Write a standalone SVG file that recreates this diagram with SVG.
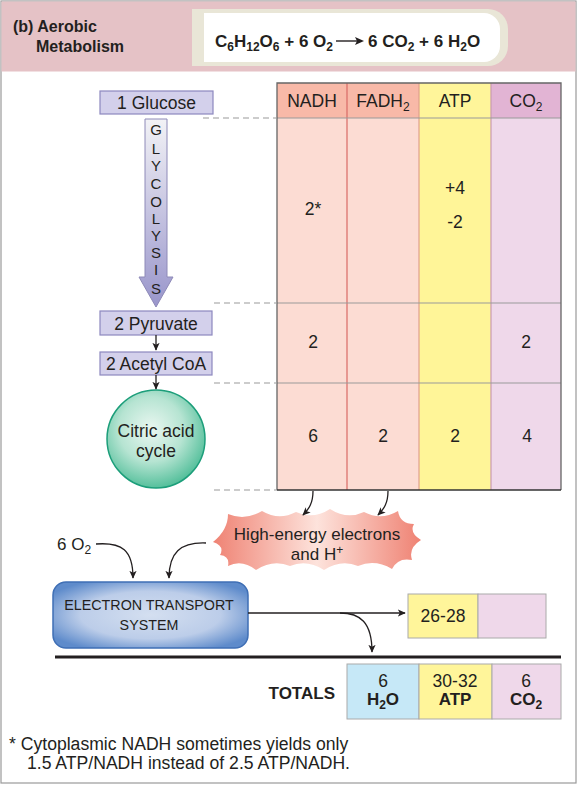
<svg xmlns="http://www.w3.org/2000/svg" width="579" height="786" viewBox="0 0 579 786">
<defs>
<style>
text{font-family:"Liberation Sans",Arial,sans-serif;fill:#231f20}
.b{font-weight:bold}
.hdr{font-size:17.5px;text-anchor:middle}
.num{font-size:17.5px;text-anchor:middle}
.lbl{font-size:17.5px;text-anchor:middle}
.box{fill:#d3d0eb;stroke:#8d88bf;stroke-width:1.2}
.dash{stroke:#999;stroke-width:1.2;stroke-dasharray:6 4;fill:none}
.conn{stroke:#231f20;stroke-width:1.3;fill:none;marker-end:url(#ah)}
.hl{stroke:#999;stroke-width:1.2}
</style>
<marker id="ah" viewBox="0 0 10 10" refX="9" refY="5" markerWidth="8" markerHeight="8" orient="auto" markerUnits="userSpaceOnUse">
<path d="M0,0.5 L10,5 L0,9.5 L2.5,5 Z" fill="#231f20"/>
</marker>
<linearGradient id="gly" x1="0" y1="0" x2="0" y2="1">
<stop offset="0" stop-color="#f2f2f6"/>
<stop offset="1" stop-color="#9995cb"/>
</linearGradient>
<radialGradient id="cac" cx="0.45" cy="0.4" r="0.6">
<stop offset="0" stop-color="#eaf7f1"/>
<stop offset="0.55" stop-color="#b6e4d2"/>
<stop offset="1" stop-color="#56c09c"/>
</radialGradient>
<linearGradient id="burst" x1="0" y1="0" x2="1" y2="0">
<stop offset="0" stop-color="#ef8273"/>
<stop offset="0.5" stop-color="#fde3dc"/>
<stop offset="1" stop-color="#ef8273"/>
</linearGradient>
<radialGradient id="ets" cx="0.5" cy="0.5" r="0.6">
<stop offset="0" stop-color="#d4dff0"/>
<stop offset="0.6" stop-color="#bccde9"/>
<stop offset="1" stop-color="#5e8bcb"/>
</radialGradient>
</defs>

<rect x="1" y="1" width="575" height="782" fill="#fff" stroke="#9a9a9a" stroke-width="1.2"/>

<g id="header">
<rect x="1.5" y="1.5" width="574" height="70" fill="#e5c2c6"/>
<path d="M192,9 H488 A20,20 0 0 1 508,29 V46 A20,20 0 0 1 488,66 H192 Z" fill="#e9e6d7"/>
<path d="M204,13 H484 A16,16 0 0 1 500,29 V46 A16,16 0 0 1 484,62 H204 Z" fill="#fff"/>
<text class="b" x="13" y="32" font-size="16">(b) Aerobic</text>
<text class="b" x="36" y="52" font-size="16">Metabolism</text>
<text class="b" x="215" y="47" font-size="17">C<tspan font-size="12" dy="4">6</tspan><tspan dy="-4">H</tspan><tspan font-size="12" dy="4">12</tspan><tspan dy="-4">O</tspan><tspan font-size="12" dy="4">6</tspan><tspan dy="-4"> + 6 O</tspan><tspan font-size="12" dy="4">2</tspan></text>
<line x1="336" y1="41" x2="358" y2="41" stroke="#231f20" stroke-width="1.4"/>
<path d="M364,41 L355,37 L357,41 L355,45 Z" fill="#231f20"/>
<text class="b" x="368" y="47" font-size="17">6 CO<tspan font-size="12" dy="4">2</tspan><tspan dy="-4"> + 6 H</tspan><tspan font-size="12" dy="4">2</tspan><tspan dy="-4">O</tspan></text>
</g>

<g id="table">
<rect x="277" y="83" width="70" height="35" fill="#f8b9a8"/>
<rect x="347" y="83" width="72" height="35" fill="#f8b9a8"/>
<rect x="419" y="83" width="72" height="35" fill="#fff59a"/>
<rect x="491" y="83" width="70" height="35" fill="#e2b4d4"/>
<rect x="277" y="118" width="142" height="372" fill="#fcdcd3"/>
<rect x="419" y="118" width="72" height="372" fill="#fff598"/>
<rect x="491" y="118" width="70" height="372" fill="#efd8ea"/>
<line x1="347" y1="83" x2="347" y2="490" stroke="#d96a66" stroke-width="1.2"/>
<line x1="419" y1="83" x2="419" y2="490" stroke="#e0a08c" stroke-width="1.2"/>
<line x1="491" y1="83" x2="491" y2="490" stroke="#c99ab0" stroke-width="1.2"/>
<line class="hl" x1="277" y1="118" x2="561" y2="118" stroke="#777"/>
<line class="hl" x1="277" y1="303" x2="561" y2="303"/>
<line class="hl" x1="277" y1="383" x2="561" y2="383"/>
<path d="M277,490 V83 H561 V490" fill="none" stroke="#666" stroke-width="1.3"/>
<line x1="277" y1="490" x2="561" y2="490" stroke="#333" stroke-width="1.6"/>
<text class="hdr" x="312" y="107">NADH</text>
<text class="hdr" x="383" y="107">FADH<tspan font-size="12" dy="4">2</tspan></text>
<text class="hdr" x="455" y="107">ATP</text>
<text class="hdr" x="526" y="107">CO<tspan font-size="12" dy="4">2</tspan></text>
<text class="num" x="313" y="215">2*</text>
<text class="num" x="455" y="194">+4</text>
<text class="num" x="455" y="228">-2</text>
<text class="num" x="313" y="348">2</text>
<text class="num" x="526" y="348">2</text>
<text class="num" x="313" y="442">6</text>
<text class="num" x="383" y="442">2</text>
<text class="num" x="455" y="442">2</text>
<text class="num" x="527" y="442">4</text>
</g>

<g id="dashes">
<line class="dash" x1="203" y1="118" x2="277" y2="118"/>
<line class="dash" x1="214" y1="303" x2="277" y2="303"/>
<line class="dash" x1="214" y1="383" x2="277" y2="383"/>
<line class="dash" x1="214" y1="490" x2="277" y2="490"/>
</g>

<g id="glucose">
<rect class="box" x="100" y="91" width="113" height="23"/>
<text class="lbl" x="156.5" y="108.5">1 Glucose</text>
</g>

<g id="glycolysis">
<path d="M145,119 H167 V277 H173 L156,307 L139,277 H145 Z" fill="url(#gly)" stroke="#8e8ab8" stroke-width="1"/>
<g font-size="15" text-anchor="middle">
<text x="156" y="135">G</text>
<text x="156" y="154">L</text>
<text x="156" y="171">Y</text>
<text x="156" y="189">C</text>
<text x="156" y="207">O</text>
<text x="156" y="224">L</text>
<text x="156" y="241">Y</text>
<text x="156" y="258">S</text>
<text x="156" y="275">I</text>
<text x="156" y="294">S</text>
</g>
</g>

<g id="pyruvate">
<rect class="box" x="100" y="311" width="112" height="24"/>
<text class="lbl" x="156" y="329.5">2 Pyruvate</text>
</g>

<g id="acetyl">
<rect class="box" x="100" y="352" width="112" height="23" fill="#e5d5ea"/>
<text class="lbl" x="156" y="369.5">2 Acetyl CoA</text>
</g>

<g id="citric">
<circle cx="156" cy="439" r="49" fill="url(#cac)" stroke="#1c9e7a" stroke-width="1.5"/>
<text class="lbl" x="156" y="437">Citric acid</text>
<text class="lbl" x="156" y="457">cycle</text>
</g>

<g id="electrons">
<path d="M213,542 Q228,530 228,514 Q245,521 262,511 Q279,521 296,512 Q313,520 330,509 Q347,520 364,512 Q381,521 398,511 Q400,524 414,524 Q409,533 421,540 Q408,548 412,560 Q398,557 392,569 Q375,559 358,566 Q341,559 324,570 Q307,559 290,566 Q273,559 256,570 Q242,559 228,566 Q230,556 220,555 Q225,546 213,542 Z" fill="url(#burst)"/>
<text x="317" y="540" font-size="17" text-anchor="middle">High-energy electrons</text>
<text x="317" y="560" font-size="17" text-anchor="middle">and H<tspan font-size="12" dy="-6">+</tspan></text>
</g>

<g id="o2">
<text x="57" y="550" font-size="17">6 O<tspan font-size="12" dy="4">2</tspan></text>
</g>

<g id="ets">
<rect x="53" y="582" width="195" height="66" rx="13" fill="url(#ets)" stroke="#3f6fb5" stroke-width="1.5"/>
<text x="149" y="610" font-size="14.3" text-anchor="middle">ELECTRON TRANSPORT</text>
<text x="149" y="630" font-size="14.3" text-anchor="middle">SYSTEM</text>
</g>

<g id="etsyield">
<rect x="408" y="594" width="70" height="44" fill="#fff59a" stroke="#aaa" stroke-width="1"/>
<rect x="478" y="594" width="68" height="44" fill="#efd8ea" stroke="#aaa" stroke-width="1"/>
<text class="lbl" x="443" y="622">26-28</text>
</g>

<g id="totals">
<line x1="55" y1="657" x2="561" y2="657" stroke="#231f20" stroke-width="3"/>
<text class="b" x="335" y="699" font-size="17" text-anchor="end">TOTALS</text>
<rect x="347" y="664" width="72" height="55" fill="#c6e8f7" stroke="#aaa" stroke-width="1"/>
<rect x="419" y="664" width="73" height="55" fill="#fff59a" stroke="#aaa" stroke-width="1"/>
<rect x="492" y="664" width="69" height="55" fill="#efd8ea" stroke="#aaa" stroke-width="1"/>
<text class="lbl" x="383" y="687">6</text>
<text class="b" x="383" y="705" font-size="17" text-anchor="middle">H<tspan font-size="12" dy="4">2</tspan><tspan dy="-4">O</tspan></text>
<text class="lbl" x="455" y="687">30-32</text>
<text class="b" x="455" y="705" font-size="17" text-anchor="middle">ATP</text>
<text class="lbl" x="526" y="687">6</text>
<text class="b" x="526" y="705" font-size="17" text-anchor="middle">CO<tspan font-size="12" dy="4">2</tspan></text>
</g>

<g id="footnote">
<text x="9" y="750" font-size="17.6">* Cytoplasmic NADH sometimes yields only</text>
<text x="27" y="769" font-size="17.6">1.5 ATP/NADH instead of 2.5 ATP/NADH.</text>
</g>

<g id="connectors">
<path class="conn" d="M156,335 V350"/>
<path class="conn" d="M156,375 V389"/>
<path class="conn" d="M313,491 C313,503 309,509 303,515"/>
<path class="conn" d="M388,491 C388,503 384,509 378,515"/>
<path class="conn" d="M96,544 C122,542 133,550 133,578"/>
<path class="conn" d="M206,543 C180,542 169,553 169,578"/>
<path class="conn" d="M248,613 H405"/>
<path class="conn" d="M340,613 C360,613 372,622 372,652"/>
</g>
</svg>
